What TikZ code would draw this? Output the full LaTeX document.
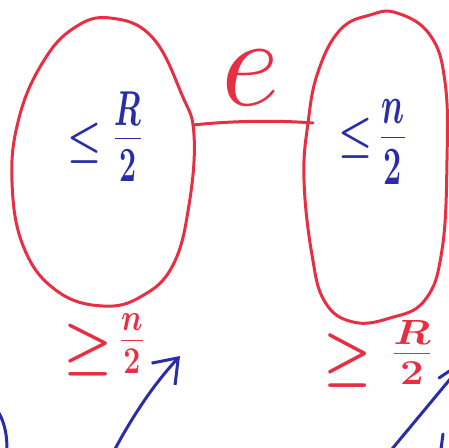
\documentclass[tikz,border=0pt]{standalone}
\usepackage{fix-cm}
\usetikzlibrary{arrows.meta}
\definecolor{inkred}{RGB}{232,46,66}
\definecolor{inkblue}{RGB}{42,44,168}
\newcommand{\sz}[1]{\fontsize{#1}{#1}\selectfont}
\begin{document}
\begin{tikzpicture}[x=1pt,y=-1pt,line cap=round,line join=round,
  outline/.style={draw=inkred,line width=3pt},
  pen/.style={draw=inkblue,line width=3pt},
  lbl/.style={inner sep=0pt,outer sep=0pt}]
\useasboundingbox (0,0) rectangle (449,447);

% the two parts, drawn freehand
\draw[outline] plot[smooth cycle,tension=0.7] coordinates {
  (110,18) (152,37) (182,95) (194,135) (189,205) (173,265) (142,296)
  (103,306) (57,291) (24,248) (12,182) (19,118) (43,62) (74,28)};
\draw[outline] plot[smooth cycle,tension=0.7] coordinates {
  (397,13) (430,35) (445,82) (447,160) (442,250) (425,300) (390,318)
  (353,322) (325,302) (312,255) (304,180) (308,123) (318,72) (340,30)
  (370,15)};

% the crossing edge e
\coordinate (lefttouch) at (193,125);
\coordinate (righttouch) at (313,123);
\draw[outline] (lefttouch) .. controls (230,121) and (275,120) .. (righttouch);
\node[lbl,text=inkred] (elabel) at (251,78) {\sz{128}$e$};

% bounds inside the parts
\node[lbl,text=inkblue] (leftrel) at (85,143)
  {\scalebox{0.85}[1]{\sz{45}\boldmath$\leq$}};
\node[lbl,text=inkblue,anchor=base] (leftfrac) at (128,155.5)
  {\scalebox{0.62}[1]{\sz{70}\boldmath$\frac{R}{2}$}};
\node[lbl,text=inkblue] (rightrel) at (356,138)
  {\scalebox{0.85}[1]{\sz{45}\boldmath$\leq$}};
\node[lbl,text=inkblue,anchor=base] (rightfrac) at (393,156)
  {\scalebox{0.6}[1]{\sz{77}\boldmath$\frac{n}{2}$}};

% bounds below the parts
\node[lbl,text=inkred] (lowleftrel) at (88,350)
  {\scalebox{0.95}[1]{\sz{58}\boldmath$\geq$}};
\node[lbl,text=inkred,anchor=base] (lowleftfrac) at (132,353.5)
  {\scalebox{0.8}[1]{\sz{54}\boldmath$\frac{n}{2}$}};
\node[lbl,text=inkred] (lowrightrel) at (348,360)
  {\scalebox{0.9}[1]{\sz{60}\boldmath$\geq$}};
\node[lbl,text=inkred,anchor=base] (lowrightfrac) at (412,365.5)
  {\scalebox{1.2}[1]{\sz{50}\boldmath$\frac{R}{2}$}};

% blue strokes along the bottom
\coordinate (arrowfoot) at (115,449);
\coordinate (arrowtip) at (180,356);
\draw[pen,-{Straight Barb[length=22pt,width=32pt,line width=3pt]}]
  (arrowfoot) .. controls (135,412) and (155,383) .. (arrowtip);
\coordinate (curvetop) at (-1,413);
\coordinate (curvefoot) at (7,449);
\draw[pen] (curvetop) .. controls (5,424) and (7,436) .. (curvefoot);
\coordinate (slantfoot) at (392,449);
\coordinate (slanttop) at (451,378);
\draw[pen] (slantfoot) -- (slanttop);
\coordinate (barbstart) at (439,378);
\coordinate (barbend) at (451,370);
\draw[pen] (barbstart) -- (barbend);
\coordinate (tickTop) at (443,434);
\coordinate (tickFoot) at (441,449);
\draw[pen] (tickTop) -- (tickFoot);
\end{tikzpicture}
\end{document}
